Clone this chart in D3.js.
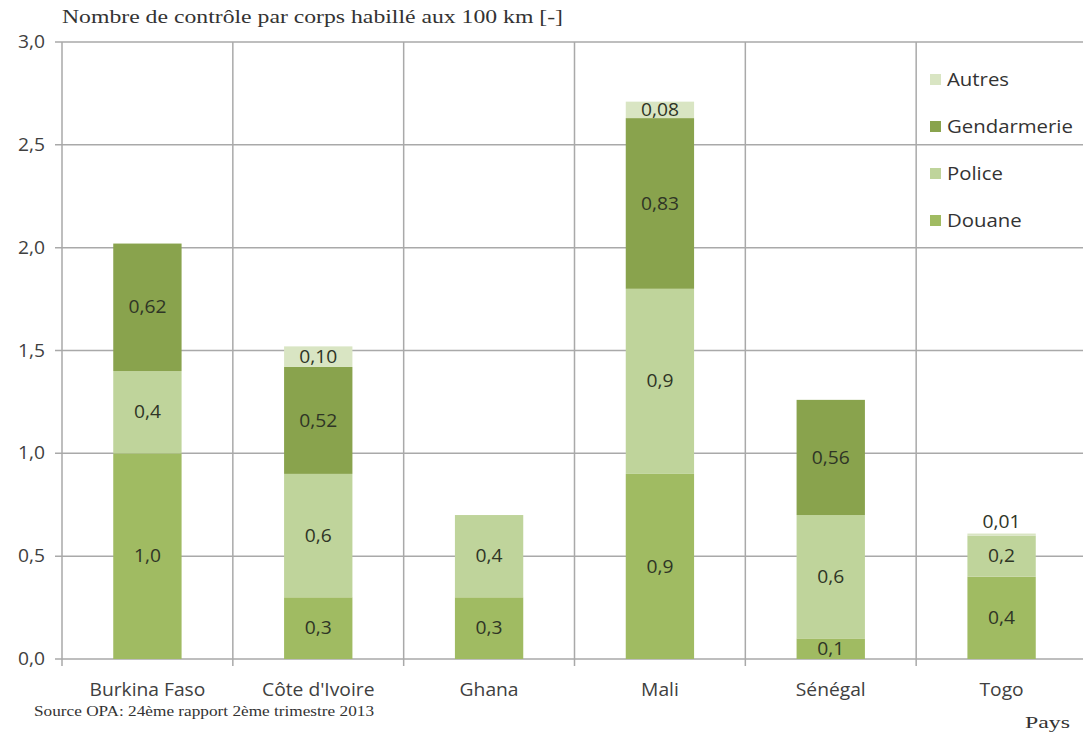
<!DOCTYPE html>
<html>
<head>
<meta charset="utf-8">
<script src="https://cdn.jsdelivr.net/npm/d3@7"></script>
<style>
  html, body { margin: 0; padding: 0; background: #ffffff; }
  svg { display: block; }
</style>
</head>
<body>
<svg id="chart" width="1083" height="732"></svg>
<script>
// Controls per 100 km by uniformed body, per country (OPA, Q2 2013)
const countries = ["Burkina Faso", "Côte d'Ivoire", "Ghana", "Mali", "Sénégal", "Togo"];
const douane      = [1.0, 0.3, 0.3, 0.9, 0.1, 0.4];
const police      = [0.4, 0.6, 0.4, 0.9, 0.6, 0.2];
const gendarmerie = [0.62, 0.52, 0, 0.83, 0.56, 0];
const autres      = [0, 0.10, 0, 0.08, 0, 0.01];

const seriesNames = ["Douane", "Police", "Gendarmerie", "Autres"];
const seriesDecimals = [1, 1, 2, 2];
const seriesColors = ["#a0bb62", "#bfd49b", "#89a34d", "#d9e5c3"];
const yTicks = [0, 0.5, 1.0, 1.5, 2.0, 2.5, 3.0];

const titleText = "Nombre de contrôle par corps habillé aux 100 km [-]";
const sourceText = "Source OPA: 24ème rapport 2ème trimestre 2013";
const xTitleText = "Pays";

const rows = countries.map((c, i) => ({
  country: c,
  Douane: douane[i], Police: police[i], Gendarmerie: gendarmerie[i], Autres: autres[i]
}));

const svg = d3.select("#chart");
const sansFont = "'Open Sans', Lato, sans-serif";
const serifFont = "'Liberation Serif', 'DejaVu Serif', serif";
const sansSize = 17.5;
const sansStretch = 1.1;
const fmtComma = (v, d) => v.toFixed(d).replace(".", ",");

// sans-serif label, slightly widened horizontally
function sansLabel(g, px, py, txt, anchor, fill, size) {
  return g.append("text")
    .attr("transform", `translate(${px},${py}) scale(${sansStretch},1)`)
    .attr("dy", "0.35em")
    .attr("text-anchor", anchor)
    .attr("font-family", sansFont).attr("font-size", size || sansSize)
    .attr("fill", fill)
    .text(txt);
}

const plotLeft = 62, plotRight = 1087, plotTop = 42, plotBottom = 659;

const x = d3.scaleBand().domain(countries).range([plotLeft, plotRight])
  .paddingInner(0.6).paddingOuter(0.3);
const y = d3.scaleLinear().domain([0, 3]).range([plotBottom, plotTop]);
const step = x.step();

// horizontal grid lines
svg.append("g").selectAll("line").data(yTicks).join("line")
  .attr("x1", plotLeft - 7).attr("x2", plotRight)
  .attr("y1", d => y(d)).attr("y2", d => y(d))
  .attr("stroke", "#a9a9a9").attr("stroke-width", 1.5);

// vertical grid lines at category boundaries (axis included)
svg.append("g").selectAll("line").data(d3.range(0, countries.length)).join("line")
  .attr("x1", i => plotLeft + i * step).attr("x2", i => plotLeft + i * step)
  .attr("y1", plotTop).attr("y2", plotBottom + 7)
  .attr("stroke", "#a9a9a9").attr("stroke-width", 1.5);

// y axis labels
const yLab = svg.append("g");
yTicks.forEach(t => sansLabel(yLab, 45, y(t), fmtComma(t, 1), "end", "#404040"));

// stacked bars
const stack = d3.stack().keys(seriesNames);
const stacked = stack(rows);

const layers = svg.append("g").selectAll("g").data(stacked).join("g")
  .attr("fill", (d, i) => seriesColors[i]);

layers.selectAll("rect").data(d => d.filter(s => s[1] - s[0] > 0)).join("rect")
  .attr("x", d => x(d.data.country))
  .attr("width", x.bandwidth())
  .attr("y", d => y(d[1]))
  .attr("height", d => y(d[0]) - y(d[1]));

// value labels
const labelG = svg.append("g");
stacked.forEach((layer, si) => {
  layer.forEach(seg => {
    const v = seg[1] - seg[0];
    if (v <= 0) return;
    const cx = x(seg.data.country) + x.bandwidth() / 2;
    const h = y(seg[0]) - y(seg[1]);
    let cy = (y(seg[0]) + y(seg[1])) / 2;
    if (h < 8) cy = y(seg[1]) - 12;  // too thin: label sits above the bar
    sansLabel(labelG, cx, cy, fmtComma(v, seriesDecimals[si]), "middle", "#2f3526");
  });
});

// category labels
const catG = svg.append("g");
countries.forEach(c => sansLabel(catG, x(c) + x.bandwidth() / 2, 690, c, "middle", "#404040"));

// legend (top series first)
const legendOrder = [3, 2, 1, 0];
const legG = svg.append("g");
legendOrder.forEach((si, i) => {
  const ly = 80 + i * 47;
  legG.append("rect")
    .attr("x", 930).attr("y", ly - 6).attr("width", 11).attr("height", 11)
    .attr("fill", seriesColors[si]);
  sansLabel(legG, 947, ly, seriesNames[si], "start", "#333333", 18.5);
});

// titles
svg.append("text")
  .attr("x", 62).attr("y", 23)
  .attr("font-family", serifFont).attr("font-size", 18)
  .attr("textLength", 501).attr("lengthAdjust", "spacingAndGlyphs")
  .attr("fill", "#333333")
  .text(titleText);

svg.append("text")
  .attr("x", 34).attr("y", 716)
  .attr("font-family", serifFont).attr("font-size", 15)
  .attr("textLength", 340).attr("lengthAdjust", "spacingAndGlyphs")
  .attr("fill", "#333333")
  .text(sourceText);

svg.append("text")
  .attr("x", 1025).attr("y", 728)
  .attr("font-family", serifFont).attr("font-size", 17)
  .attr("textLength", 45).attr("lengthAdjust", "spacingAndGlyphs")
  .attr("fill", "#333333")
  .text(xTitleText);
</script>
</body>
</html>
